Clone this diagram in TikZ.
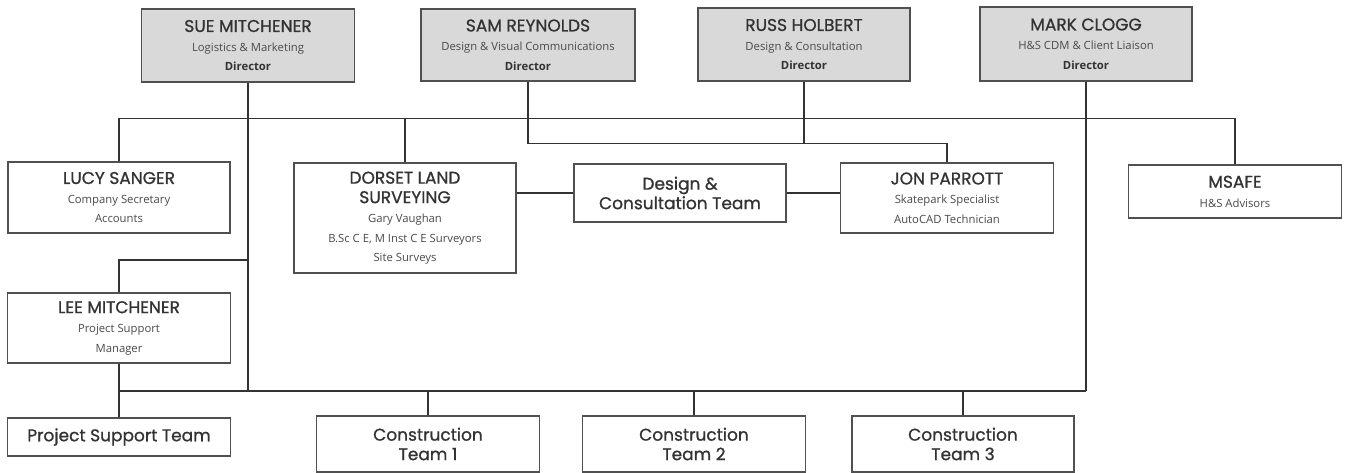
\documentclass[tikz,border=0pt]{standalone}
\usepackage{fontspec}
\setmainfont{Open Sans}
\newfontfamily\hdfont[FakeBold=0.9]{Poppins}
\newfontfamily\sbfont{Open Sans}
\definecolor{boxc}{HTML}{505050}
\definecolor{fillc}{HTML}{D9D9D9}
\definecolor{txtc}{HTML}{333333}
\definecolor{subc}{HTML}{4A4A4A}
\newcommand{\hd}{\hdfont\fontsize{17}{19.5}\selectfont\color{txtc}}
\newcommand{\sbt}{\sbfont\fontsize{11.3}{19.5}\selectfont\color{subc}}
\newcommand{\sbb}{\sbfont\bfseries\fontsize{11.3}{19.5}\selectfont\color{txtc}}
\tikzset{
  orgbox/.style={draw=boxc, line width=1.4pt, fill=white, align=center, inner sep=2pt,
    font=\fontsize{11}{19.5}\selectfont},
  dirbox/.style={orgbox, fill=fillc},
  conn/.style={draw=txtc, line width=1.1pt}
}
\begin{document}
\begin{tikzpicture}[x=1pt,y=-1pt]
\useasboundingbox (0,0) rectangle (1346,473);
% directors
\node[dirbox, minimum width=213pt, minimum height=73pt] (sue) at (248,45.5)
  {\hd SUE MITCHENER\\ \sbt Logistics \& Marketing\\ \sbb Director};
\node[dirbox, minimum width=214pt, minimum height=72pt] (sam) at (528,45)
  {\hd SAM REYNOLDS\\ \sbt Design \& Visual Communications\\ \sbb Director};
\node[dirbox, minimum width=212pt, minimum height=73pt] (russ) at (804,44.5)
  {\hd RUSS HOLBERT\\ \sbt Design \& Consultation\\ \sbb Director};
\node[dirbox, minimum width=212pt, minimum height=74pt] (mark) at (1086,44)
  {\hd MARK CLOGG\\ \sbt H\&S CDM \& Client Liaison\\ \sbb Director};
% second row
\node[orgbox, minimum width=222pt, minimum height=71pt] (lucy) at (119,197.5)
  {\hd LUCY SANGER\\ \sbt Company Secretary\\ \sbt Accounts};
\node[orgbox, minimum width=222pt, minimum height=110pt] (dorset) at (405,218)
  {\hd DORSET LAND\\ \hd SURVEYING\\ \sbt Gary Vaughan\\ \sbt B.Sc C E, M Inst C E Surveyors\\ \sbt Site Surveys};
\node[orgbox, minimum width=212pt, minimum height=58pt] (design) at (680,193)
  {\hd Design \&\\ \hd Consultation Team};
\node[orgbox, minimum width=213pt, minimum height=70pt] (jon) at (947,198)
  {\hd JON PARROTT\\ \sbt Skatepark Specialist\\ \sbt AutoCAD Technician};
\node[orgbox, minimum width=213pt, minimum height=53pt] (msafe) at (1235,191.5)
  {\hd MSAFE\\ \sbt H\&S Advisors};
\node[orgbox, minimum width=223pt, minimum height=70pt] (lee) at (119,328)
  {\hd LEE MITCHENER\\ \sbt Project Support\\ \sbt Manager};
% bottom row
\node[orgbox, minimum width=223pt, minimum height=38pt] (pst) at (119,437)
  {\hd Project Support Team};
\node[orgbox, minimum width=223pt, minimum height=56pt] (ct1) at (428,444)
  {\hd Construction\\ \hd Team 1};
\node[orgbox, minimum width=223pt, minimum height=56pt] (ct2) at (694,444)
  {\hd Construction\\ \hd Team 2};
\node[orgbox, minimum width=222pt, minimum height=56pt] (ct3) at (963,444)
  {\hd Construction\\ \hd Team 3};
% junction coordinates
\coordinate (busL) at (119,391);
\coordinate (leej) at (248,260);
% connectors
\draw[conn] (sue.south) -- (sue.south |- busL);
\draw[conn] (mark.south) -- (mark.south |- busL);
\draw[conn] (busL) -- (mark.south |- busL);
\draw[conn] (lucy.north) -- ++(0,-42.5) -| (msafe.north);
\draw[conn] (dorset.north) -- ++(0,-43.5);
\draw[conn] (russ.south) -- ++(0,62);
\draw[conn] (sam.south) -- ++(0,62) -| (jon.north);
\draw[conn] (lee.north) |- (leej);
\draw[conn] (lee.south) -- (pst.north);
\draw[conn] (ct1.north) -- (ct1.north |- busL);
\draw[conn] (ct2.north) -- (ct2.north |- busL);
\draw[conn] (ct3.north) -- (ct3.north |- busL);
\draw[conn] (dorset.east |- design.west) -- (design.west);
\draw[conn] (design.east) -- (design.east -| jon.west);
\end{tikzpicture}
\end{document}
